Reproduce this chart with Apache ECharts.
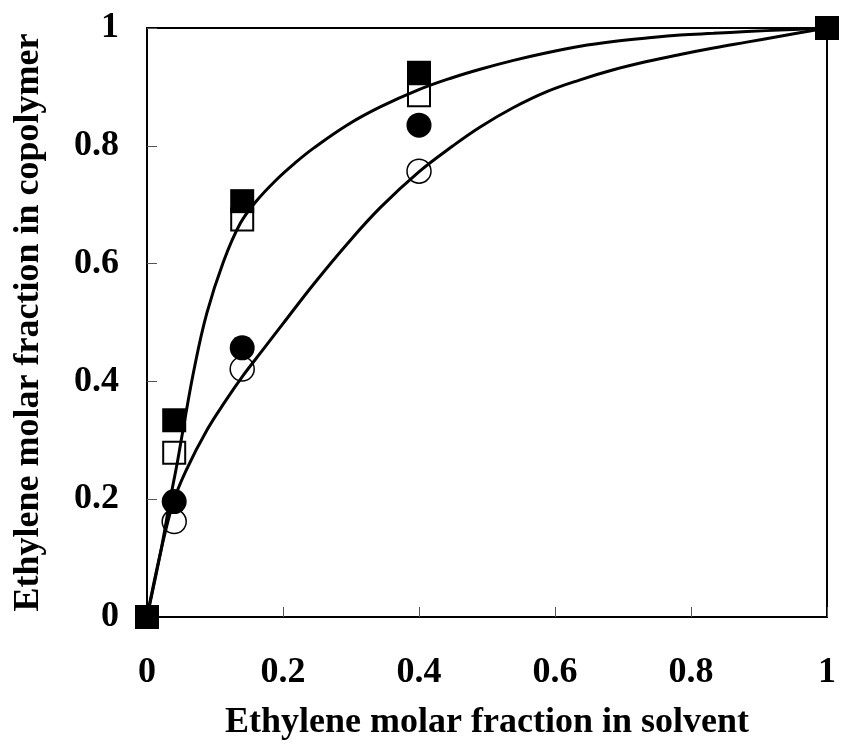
<!DOCTYPE html>
<html>
<head>
<meta charset="utf-8">
<script src="https://cdn.jsdelivr.net/npm/echarts@6/dist/echarts.min.js"></script>
<style>
  html, body { margin: 0; padding: 0; background: #fff; }
  #char { width: 843px; height: 753px; }
</style>
</head>
<body>
<div id="char"></div>
<script>
// measured points, [solvent fraction, copolymer fraction]
var filledSquares = [[0, 0], [0.04, 0.334], [0.14, 0.706], [0.4, 0.924], [1, 1]];
var openSquares = [[0.04, 0.279], [0.14, 0.675], [0.4, 0.886]];
var filledCircles = [[0.04, 0.196], [0.14, 0.457], [0.4, 0.835]];
var openCircles = [[0.04, 0.162], [0.14, 0.421], [0.4, 0.757]];

// fitted curves
var upperCurve = [
  [0, 0], [0.02, 0.11], [0.034, 0.199], [0.045, 0.265], [0.053, 0.318],
  [0.07, 0.425], [0.088, 0.516], [0.112, 0.602], [0.137, 0.668], [0.16, 0.705],
  [0.19, 0.742], [0.22, 0.773], [0.245, 0.796], [0.294, 0.835], [0.343, 0.866],
  [0.399, 0.895], [0.45, 0.916], [0.49, 0.930], [0.539, 0.945], [0.588, 0.958],
  [0.637, 0.969], [0.686, 0.977], [0.735, 0.983], [0.784, 0.988], [0.833, 0.991],
  [0.882, 0.994], [0.94, 0.997], [1, 1]
];
var lowerCurve = [
  [0, 0], [0.02, 0.11], [0.039, 0.196], [0.058, 0.250], [0.088, 0.317],
  [0.115, 0.366], [0.142, 0.411], [0.17, 0.453], [0.2, 0.498], [0.245, 0.565],
  [0.294, 0.633], [0.343, 0.695], [0.399, 0.755], [0.45, 0.800], [0.49, 0.832],
  [0.539, 0.865], [0.588, 0.892], [0.637, 0.912], [0.686, 0.929], [0.735, 0.943],
  [0.784, 0.955], [0.833, 0.966], [0.882, 0.976], [0.931, 0.986], [1, 1]
];

var font = 'Liberation Serif';

var myChart = echarts.init(document.getElementById('char'));
var option = {
  animation: false,
  backgroundColor: '#fff',
  grid: {
    left: 147, right: 16, top: 28, bottom: 136,
    show: true, borderColor: '#000', borderWidth: 2
  },
  xAxis: {
    type: 'value', min: 0, max: 1, interval: 0.2,
    name: 'Ethylene molar fraction in solvent',
    nameLocation: 'middle', nameGap: 88,
    nameTextStyle: { fontFamily: font, fontWeight: 'bold', fontSize: 36, color: '#000' },
    axisLine: { lineStyle: { color: '#000', width: 2 } },
    axisTick: { inside: true, length: 10, lineStyle: { color: '#555', width: 1 } },
    axisLabel: { fontFamily: font, fontWeight: 'bold', fontSize: 36, color: '#000', margin: 38 },
    splitLine: { show: false }
  },
  yAxis: {
    type: 'value', min: 0, max: 1, interval: 0.2,
    name: 'Ethylene molar fraction in copolymer',
    nameLocation: 'middle', nameGap: 100,
    nameTextStyle: { fontFamily: font, fontWeight: 'bold', fontSize: 36, color: '#000' },
    axisLine: { lineStyle: { color: '#000', width: 2 } },
    axisTick: { inside: true, length: 10, lineStyle: { color: '#555', width: 1 } },
    axisLabel: { fontFamily: font, fontWeight: 'bold', fontSize: 36, color: '#000', margin: 28 },
    splitLine: { show: false }
  },
  series: [
    {
      type: 'line', data: upperCurve, smooth: 0.4, showSymbol: false,
      lineStyle: { color: '#000', width: 3 }, z: 2
    },
    {
      type: 'line', data: lowerCurve, smooth: 0.4, showSymbol: false,
      lineStyle: { color: '#000', width: 3 }, z: 2
    },
    {
      type: 'scatter', data: filledSquares, symbol: 'rect', symbolSize: 24, clip: false,
      itemStyle: { color: '#000', opacity: 1 }, z: 3
    },
    {
      type: 'scatter', data: openSquares, symbol: 'rect', symbolSize: 22, clip: false,
      itemStyle: { color: 'rgba(0,0,0,0)', borderColor: '#000', borderWidth: 2, opacity: 1 }, z: 4
    },
    {
      type: 'scatter', data: filledCircles, symbol: 'circle', symbolSize: 25, clip: false,
      itemStyle: { color: '#000', opacity: 1 }, z: 3
    },
    {
      type: 'scatter', data: openCircles, symbol: 'circle', symbolSize: 24, clip: false,
      itemStyle: { color: 'rgba(0,0,0,0)', borderColor: '#000', borderWidth: 1.5, opacity: 1 }, z: 4
    }
  ]
};
myChart.setOption(option);
</script>
</body>
</html>
